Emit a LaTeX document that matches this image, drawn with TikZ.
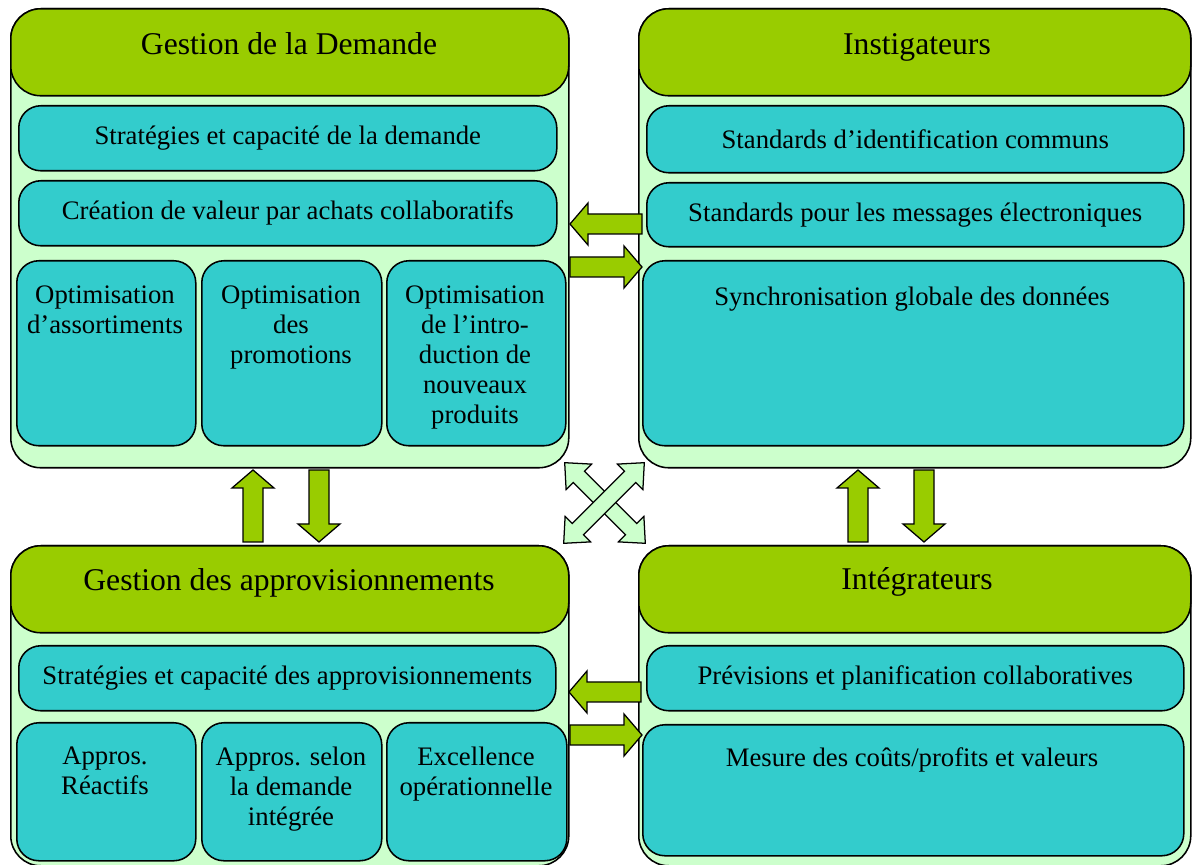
\documentclass[tikz,border=0pt]{standalone}
\usepackage{fontspec}
\setmainfont{Liberation Serif}
\usepackage{xcolor}
\usetikzlibrary{positioning}

\definecolor{vertfonce}{HTML}{99CC00}
\definecolor{vertpale}{HTML}{CCFFCC}
\definecolor{turquoise}{HTML}{33CCCC}

\def\u{0.025cm}

\tikzset{
  taille/.style 2 args={minimum width=#1*\u, minimum height=#2*\u},
  cadre/.style={draw, line width=1.1pt, fill=vertpale, rounded corners=30*\u,
    anchor=north west, inner sep=0pt},
  entete/.style={draw, line width=1.1pt, fill=vertfonce, rounded corners=30*\u,
    anchor=north west, inner sep=0pt},
  titre/.style={anchor=base, inner sep=0pt, font=\fontsize{22.5}{26}\selectfont},
  bloc/.style={draw, line width=1.1pt, fill=turquoise, rounded corners=22*\u,
    anchor=north west, inner sep=0pt, align=center,
    font=\fontsize{19}{21.3}\selectfont},
  texte/.style={anchor=north, inner sep=0pt, align=center,
    font=\fontsize{19}{21.3}\selectfont},
  pleine/.style={draw, line width=0.9pt, fill=vertfonce, line join=miter},
  croix/.style={draw, line width=0.9pt, fill=vertpale, line join=miter},
  fleche/.pic={
    \path[pleine] (0,-10) -- (54,-10) -- (54,-21) -- (72,0) -- (54,21)
      -- (54,10) -- (0,10) -- cycle;
  },
  double/.pic={
    \path[croix] (-57,0) -- (-37,-18) -- (-37,-8) -- (37,-8) -- (37,-18)
      -- (57,0) -- (37,18) -- (37,8) -- (-37,8) -- (-37,18) -- cycle;
  },
}

\begin{document}
\begin{tikzpicture}[x=0.025cm, y=-0.025cm]
  \useasboundingbox (0,0) rectangle (1193,865);

  % Gestion de la Demande
  \node[cadre, taille={558}{459}] (dem) at (10,8) {};
  \node[entete, taille={558}{87}] (demH) at (10,8) {};
  \node[titre] (demT) at (289,55) {Gestion de la Demande};
  \node[bloc, taille={538}{65}] (dem1) at (18,105) {Stratégies et capacité de la demande};
  \node[bloc, taille={538}{65}] (dem2) at (18,180) {Création de valeur par achats collaboratifs};
  \node[bloc, taille={179}{185}] (opt1) at (16,260) {};
  \node[bloc, taille={180}{185}] (opt2) at (201,260) {};
  \node[bloc, taille={179}{185}] (opt3) at (386,260) {};
  \node[texte] (opt1t) at (105,286) {Optimisation\\d’assortiments};
  \node[texte] (opt2t) at (291,286) {Optimisation\\des\\promotions};
  \node[texte] (opt3t) at (475,286) {Optimisation\\de l’intro-\\duction de\\nouveaux\\produits};

  % Instigateurs
  \node[cadre, taille={552}{459}] (ins) at (638,8) {};
  \node[entete, taille={552}{87}] (insH) at (638,8) {};
  \node[titre] (insT) at (917,55) {Instigateurs};
  \node[bloc, taille={537}{67}] (ins1) at (646,105) {Standards d’identification communs};
  \node[bloc, taille={537}{64}] (ins2) at (646,182) {Standards pour les messages électroniques};
  \node[bloc, taille={541}{185}] (ins3) at (642,260) {};
  \node[texte] (ins3t) at (912,287) {Synchronisation globale des données};

  % Gestion des approvisionnements
  \node[cadre, taille={558}{320}] (app) at (10,545) {};
  \node[entete, taille={558}{87}] (appH) at (10,545) {};
  \node[titre] (appT) at (289,591) {Gestion des approvisionnements};
  \node[bloc, taille={537}{65}] (app1) at (18,645) {Stratégies et capacité des approvisionnements};
  \node[bloc, taille={179}{138}] (rea) at (16,722) {};
  \node[bloc, taille={180}{138}] (sel) at (201,722) {};
  \node[bloc, taille={180}{138}] (exc) at (386,722) {};
  \node[texte] (reat) at (105,747) {Appros.\\Réactifs};
  \node[texte] (selt) at (291,747) {Appros. selon\\la demande\\intégrée};
  \node[texte] (exct) at (476,747) {Excellence\\opérationnelle};

  % Intégrateurs
  \node[cadre, taille={552}{320}] (int) at (638,545) {};
  \node[entete, taille={552}{87}] (intH) at (638,545) {};
  \node[titre] (intT) at (917,590) {Intégrateurs};
  \node[bloc, taille={537}{65}] (int1) at (646,645) {Prévisions et planification collaboratives};
  \node[bloc, taille={541}{131}] (int2) at (642,724) {};
  \node[texte] (int2t) at (912,747) {Mesure des coûts/profits et valeurs};

  % Flèches
  \pic[rotate=180] at (642,224) {fleche};
  \pic at (570,267) {fleche};
  \pic[rotate=180] at (641,692) {fleche};
  \pic at (570,735) {fleche};
  \pic[rotate=90] at (253,542) {fleche};
  \pic[rotate=-90] at (319,470) {fleche};
  \pic[rotate=90] at (858,542) {fleche};
  \pic[rotate=-90] at (924,470) {fleche};
  \pic[rotate=-45] at (605,503) {double};
  \pic[rotate=45] at (604,503) {double};
\end{tikzpicture}
\end{document}
